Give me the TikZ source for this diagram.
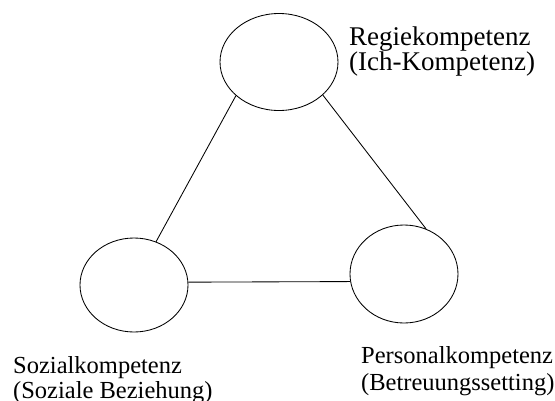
\documentclass[tikz,border=0pt]{standalone}
\usepackage{fontspec}
\setmainfont{Liberation Serif}
\usetikzlibrary{shapes.geometric}
\newcommand{\twolines}[2]{\vtop{\lineskiplimit=-40pt\hbox{#1}\hbox{#2}}}
\begin{document}
\begin{tikzpicture}[x=1pt,y=-1pt,
  comp/.style={draw, ellipse, inner sep=0pt, line width=0.85pt},
  link/.style={line width=0.85pt},
  lbl/.style={anchor=base west, inner sep=0pt}]
\useasboundingbox[fill=white] (0,0) rectangle (555,400);
\node[comp, minimum width=118pt, minimum height=97pt] (regie) at (279,62) {};
\node[comp, minimum width=108pt, minimum height=94pt] (sozial) at (134,285) {};
\node[comp, minimum width=108pt, minimum height=98pt] (personal) at (404,274) {};
\draw[link] (regie.218.8) -- (sozial.63);
\draw[link] (regie.-37.1) -- (personal.64);
\draw[link] (sozial.3) -- (personal.188.4);
\node[lbl, font=\fontsize{27}{25.5}\selectfont] (tregie) at (349,45) {\twolines{Regiekompetenz}{(Ich-Kompetenz)}};
\node[lbl, font=\fontsize{24.5}{25}\selectfont] (tsozial) at (13,373) {\twolines{Sozialkompetenz}{(Soziale Beziehung)}};
\node[lbl, font=\fontsize{24.5}{27}\selectfont] (tpersonal) at (361,363) {\twolines{Personalkompetenz}{(Betreuungssetting)}};
\end{tikzpicture}
\end{document}
